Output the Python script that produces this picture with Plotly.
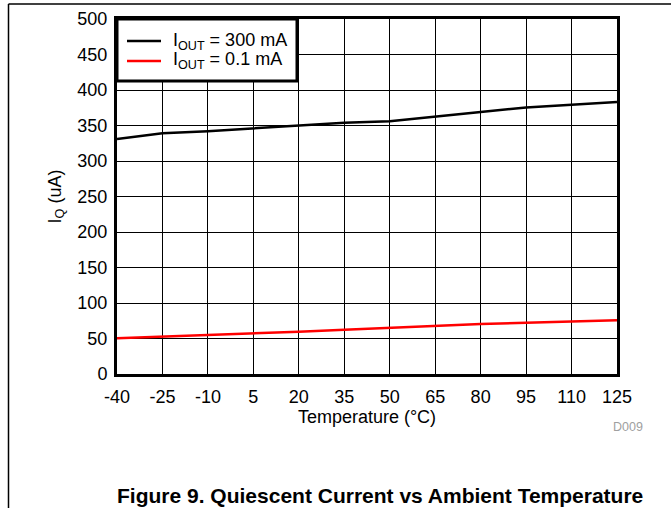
import plotly.graph_objects as go

temps = [-40, -25, -10, 5, 20, 35, 50, 65, 80, 95, 110, 125]
iq_300mA = [331, 339, 342, 346, 350, 354, 356, 363, 369, 375.5, 379, 383]
iq_0p1mA = [50.5, 52.5, 54.5, 57, 59.5, 62.5, 65.3, 68, 70.4, 72.3, 74.2, 75.6]
x_ticks = [-40, -25, -10, 5, 20, 35, 50, 65, 80, 95, 110, 125]
y_ticks = [0, 50, 100, 150, 200, 250, 300, 350, 400, 450, 500]
series_names = ["I<sub>OUT</sub> = 300 mA", "I<sub>OUT</sub> = 0.1 mA"]
series_colors = ["black", "#ff0000"]

FONT = "Liberation Sans, Arial, sans-serif"

fig = go.Figure()
for yvals, name, color in zip([iq_300mA, iq_0p1mA], series_names, series_colors):
    fig.add_trace(go.Scatter(x=temps, y=yvals, mode="lines",
                             line=dict(color=color, width=2.5),
                             name=name, showlegend=False))

axis_common = dict(showline=True, linecolor="black", linewidth=3, mirror=True,
                   showgrid=True, gridcolor="black", gridwidth=1, automargin=False,
                   zeroline=False, ticks="", tickfont=dict(size=18, color="black"))

fig.update_xaxes(range=[-40, 125], tickvals=x_ticks, ticktext=[str(v) for v in x_ticks],
                 title=dict(text="Temperature (°C)", font=dict(size=18, color="black"), standoff=2),
                 ticklabelstandoff=4, **axis_common)
fig.update_yaxes(range=[0, 500], tickvals=y_ticks,
                 title=dict(text="I<sub>Q</sub> (uA)", font=dict(size=18, color="black"), standoff=12),
                 ticklabelstandoff=3, **axis_common)

shapes = [
    # outer frame lines of the figure page
    dict(type="line", xref="paper", yref="paper", x0=-0.217, x1=1.2, y0=1.0423, y1=1.0423,
         line=dict(color="black", width=1.5)),
    dict(type="line", xref="paper", yref="paper", x0=-0.217, x1=-0.217, y0=1.0423, y1=-0.4,
         line=dict(color="black", width=1.5)),
    # legend box
    dict(type="rect", xref="paper", yref="paper", x0=0, x1=0.36, y0=0.8254, y1=1,
         fillcolor="white", line=dict(color="black", width=3), layer="above"),
]
annotations = []
legend_y = [0.938, 0.8817]
for name, color, ly in zip(series_names, series_colors, legend_y):
    shapes.append(dict(type="line", xref="paper", yref="paper", x0=0.02, x1=0.088, y0=ly, y1=ly,
                       line=dict(color=color, width=2.5), layer="above"))
    annotations.append(dict(text=name, xref="paper", yref="paper", x=0.108, y=ly,
                            xanchor="left", yanchor="middle", showarrow=False,
                            font=dict(size=18, color="black")))

annotations += [
    dict(text="D009", xref="paper", yref="paper", x=1.022, y=-0.149, xanchor="center",
         yanchor="middle", showarrow=False, font=dict(size=12.5, color="#a0a0a0")),
    dict(text="<b>Figure 9. Quiescent Current vs Ambient Temperature</b>", xref="paper",
         yref="paper", x=0.526, y=-0.341, xanchor="center", yanchor="middle",
         showarrow=False, font=dict(size=21, color="black")),
]

fig.update_layout(
    width=671, height=508,
    margin=dict(l=117, r=54, t=19, b=134, autoexpand=False),
    paper_bgcolor="white", plot_bgcolor="white",
    font=dict(family=FONT, size=18, color="black"),
    showlegend=False,
    shapes=shapes,
    annotations=annotations,
)

# remove the default 8px page margin so the figure fills the window exactly
fig.write_html("out.html",
               config={"displayModeBar": False},
               post_script="document.body.style.margin='0';document.body.style.overflow='hidden';")
